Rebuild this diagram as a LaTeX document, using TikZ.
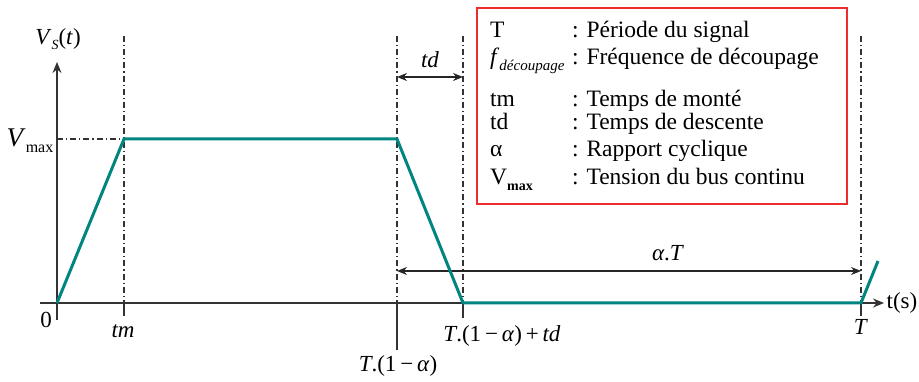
\documentclass[tikz,border=0pt]{standalone}
\usepackage{fontspec}
\setmainfont{Liberation Serif}
\usetikzlibrary{arrows.meta}
\definecolor{wave}{RGB}{0,133,128}
\definecolor{boxred}{RGB}{235,45,45}
\newcommand{\subtxt}[2]{\raisebox{-0.25em}{\fontsize{#1}{#1}\selectfont #2}}
\tikzset{
  axis/.style={line width=1.3pt, black!80},
  guide/.style={line width=1.1pt, black!80, dash pattern=on 6pt off 3pt on 1.2pt off 3pt},
  tick/.style={line width=1.3pt, black!80},
  dim/.style={line width=1.3pt, black!85, {Stealth[length=10pt,width=8pt]}-{Stealth[length=10pt,width=8pt]}},
  lbl/.style={font=\fontsize{23}{26}\selectfont, inner sep=0pt},
  leg/.style={font=\fontsize{23.5}{26}\selectfont, inner sep=0pt, anchor=base west},
  signal/.style={line width=3pt, wave, line join=miter},
}
\begin{document}
\begin{tikzpicture}[x=1pt,y=-1pt]
\useasboundingbox (0,0) rectangle (919,382);
% key coordinates
\coordinate (O) at (57,303);
\coordinate (ytop) at (57,62);
\coordinate (ybot) at (57,320);
\coordinate (xl) at (40,303);
\coordinate (xr) at (884,303);
\coordinate (A) at (124,139);
\coordinate (B) at (397,139);
\coordinate (C) at (463,303);
\coordinate (D) at (861,303);
\coordinate (E) at (878,261);
\coordinate (vm) at (57,139);
% guide tops
\coordinate (gA) at (124,36);
\coordinate (gB) at (397,36);
\coordinate (gC) at (463,36);
\coordinate (gD) at (861,36);
\coordinate (tA) at (124,316);
\coordinate (tB) at (397,350);
\coordinate (tC) at (463,318);
\coordinate (tD) at (861,316);
\coordinate (bA) at (124,303);
\coordinate (bB) at (397,303);
% axes
\draw[axis,-{Stealth[length=11pt,width=9pt]}] (ybot) -- (ytop);
\draw[axis,-{Stealth[length=11pt,width=9pt]}] (xl) -- (xr);
% guides
\draw[guide] (vm) -- (A);
\draw[guide] (gA) -- (bA);
\draw[guide] (gB) -- (bB);
\draw[guide] (gC) -- (C);
\draw[guide] (gD) -- (D);
% ticks
\draw[tick] (bA) -- (tA);
\draw[tick] (bB) -- (tB);
\draw[tick] (C) -- (tC);
\draw[tick] (D) -- (tD);
% dimension arrows
\coordinate (tdl) at (397,77);
\coordinate (tdr) at (463,77);
\coordinate (atl) at (397,271);
\coordinate (atr) at (861,271);
\draw[dim] (tdl) -- (tdr);
\draw[dim] (atl) -- (atr);
% signal
\draw[signal] (O) -- (A) -- (B) -- (C) -- (D) -- (E);
% labels
\node[lbl] (lvs) at (58,39) {\textit{V}\subtxt{14}{\textit{S}}(\textit{t})};
\node[lbl] (lvm) at (30,141) {{\fontsize{27}{27}\selectfont\textit{V}}\subtxt{16}{max}};
\node[lbl] (l0) at (46,320) {0};
\node[lbl] (ltm) at (123,331) {\textit{tm}};
\node[lbl] (ltd) at (430,60) {\textit{td}};
\node[lbl] (lat) at (668,253) {\textit{α}.\textit{T}};
\node[lbl] (l1a) at (398,366) {\textit{T}.(1\,−\,\textit{α})};
\node[lbl] (l1atd) at (502,336) {\textit{T}.(1\,−\,\textit{α})\,+\,\textit{td}};
\node[lbl] (lT) at (861,327) {\textit{T}};
\node[lbl] (lts) at (902,303) {t(s)};
% legend box
\node[draw=boxred, line width=1.5pt, minimum width=370pt, minimum height=196pt, inner sep=0pt] (legbox) at (662,106) {};
\node[leg] (k1) at (490,38) {T};
\node[leg] (k2) at (490,65) {\textit{f}\subtxt{15}{\textit{découpage}}};
\node[leg] (k3) at (490,107) {tm};
\node[leg] (k4) at (490,130) {td};
\node[leg] (k5) at (490,157) {α};
\node[leg] (k6) at (490,185) {V\subtxt{14}{\textbf{max}}};
\node[leg] (d1) at (572,38) {: Période du signal};
\node[leg] (d2) at (572,65) {: Fréquence de découpage};
\node[leg] (d3) at (572,107) {: Temps de monté};
\node[leg] (d4) at (572,130) {: Temps de descente};
\node[leg] (d5) at (572,157) {: Rapport cyclique};
\node[leg] (d6) at (572,185) {: Tension du bus continu};
\end{tikzpicture}
\end{document}
